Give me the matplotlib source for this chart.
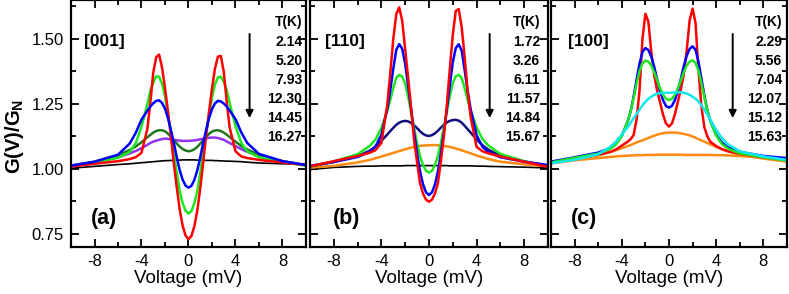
import numpy as np
import matplotlib
matplotlib.use('Agg')
import matplotlib.pyplot as plt
from matplotlib.ticker import MultipleLocator

plt.rcParams['font.family'] = ['Liberation Sans', 'DejaVu Sans']
plt.rcParams['mathtext.fontset'] = 'custom'
plt.rcParams['mathtext.bf'] = 'Liberation Sans:bold'
plt.rcParams['mathtext.rm'] = 'Liberation Sans'
plt.rcParams['axes.unicode_minus'] = False

## voltage grid (mV)
volt = [-10, -8, -6, -5, -4.5, -4, -3.5, -3.25, -3, -2.75, -2.5, -2.25, -2, -1.75, -1.5, -1.25, -1, -0.75, -0.5, -0.25,
        0, 0.25, 0.5, 0.75, 1, 1.25, 1.5, 1.75, 2, 2.25, 2.5, 2.75, 3, 3.25, 3.5, 4, 4.5, 5, 6, 8, 10]

## (a) [001]
red_a = [1.010, 1.020, 1.030, 1.038, 1.045, 1.062, 1.155, 1.255, 1.370, 1.430, 1.440, 1.390, 1.312, 1.222, 1.128, 1.022, 0.930, 0.845, 0.782, 0.744,
         0.730, 0.742, 0.780, 0.840, 0.925, 1.025, 1.130, 1.220, 1.310, 1.385, 1.432, 1.435, 1.375, 1.260, 1.160, 1.068, 1.048, 1.042, 1.035, 1.025, 1.015]
green_a = [1.012, 1.025, 1.043, 1.066, 1.098, 1.162, 1.250, 1.300, 1.332, 1.356, 1.355, 1.328, 1.278, 1.212, 1.142, 1.066, 0.986, 0.916, 0.869, 0.839,
           0.828, 0.838, 0.868, 0.915, 0.985, 1.065, 1.140, 1.210, 1.275, 1.325, 1.352, 1.355, 1.335, 1.305, 1.255, 1.165, 1.100, 1.068, 1.045, 1.027, 1.013]
blue_a = [1.013, 1.028, 1.055, 1.098, 1.138, 1.190, 1.224, 1.240, 1.253, 1.262, 1.264, 1.254, 1.232, 1.196, 1.151, 1.101, 1.046, 0.996, 0.959, 0.936,
          0.928, 0.935, 0.958, 0.995, 1.045, 1.100, 1.150, 1.195, 1.230, 1.252, 1.262, 1.260, 1.252, 1.240, 1.225, 1.192, 1.140, 1.100, 1.058, 1.030, 1.015]
dkgreen_a = [1.013, 1.028, 1.053, 1.073, 1.086, 1.103, 1.122, 1.131, 1.140, 1.146, 1.149, 1.149, 1.145, 1.136, 1.124, 1.111, 1.098, 1.086, 1.077, 1.071,
             1.068, 1.070, 1.076, 1.085, 1.097, 1.110, 1.123, 1.135, 1.144, 1.148, 1.149, 1.146, 1.140, 1.132, 1.123, 1.105, 1.088, 1.075, 1.055, 1.030, 1.015]
purple_a = [1.008, 1.025, 1.045, 1.060, 1.069, 1.080, 1.093, 1.100, 1.105, 1.109, 1.112, 1.115, 1.117, 1.116, 1.114, 1.112, 1.110, 1.109, 1.108, 1.108,
            1.108, 1.109, 1.110, 1.112, 1.114, 1.116, 1.118, 1.120, 1.121, 1.121, 1.119, 1.116, 1.112, 1.106, 1.100, 1.088, 1.076, 1.066, 1.050, 1.030, 1.014]
black_a = [1.003, 1.010, 1.017, 1.020, 1.022, 1.024, 1.026, 1.027, 1.028, 1.029, 1.030, 1.031, 1.032, 1.032, 1.033, 1.033, 1.034, 1.034, 1.035, 1.035,
           1.035, 1.035, 1.035, 1.034, 1.034, 1.034, 1.033, 1.033, 1.033, 1.032, 1.032, 1.031, 1.031, 1.030, 1.030, 1.029, 1.028, 1.026, 1.023, 1.020, 1.018]

## (b) [110]
red_b = [1.010, 1.030, 1.050, 1.062, 1.072, 1.100, 1.250, 1.370, 1.500, 1.595, 1.622, 1.570, 1.460, 1.350, 1.235, 1.110, 1.025, 0.945, 0.905, 0.882,
         0.874, 0.882, 0.905, 0.945, 1.030, 1.125, 1.245, 1.385, 1.515, 1.608, 1.615, 1.545, 1.430, 1.300, 1.200, 1.085, 1.068, 1.060, 1.048, 1.028, 1.008]
blue_b = [1.012, 1.027, 1.046, 1.066, 1.086, 1.132, 1.232, 1.305, 1.385, 1.458, 1.480, 1.462, 1.405, 1.318, 1.228, 1.140, 1.061, 0.991, 0.941, 0.910,
          0.900, 0.910, 0.940, 0.990, 1.060, 1.140, 1.230, 1.320, 1.410, 1.465, 1.480, 1.455, 1.380, 1.300, 1.230, 1.130, 1.085, 1.065, 1.045, 1.028, 1.015]
green_b = [1.010, 1.029, 1.057, 1.088, 1.113, 1.158, 1.224, 1.266, 1.312, 1.351, 1.362, 1.356, 1.328, 1.278, 1.219, 1.159, 1.099, 1.049, 1.015, 0.993,
           0.986, 0.993, 1.015, 1.050, 1.100, 1.160, 1.220, 1.280, 1.330, 1.357, 1.362, 1.350, 1.310, 1.265, 1.225, 1.160, 1.115, 1.090, 1.058, 1.030, 1.012]
navy_b = [1.010, 1.027, 1.049, 1.070, 1.086, 1.108, 1.133, 1.146, 1.158, 1.170, 1.178, 1.183, 1.185, 1.183, 1.177, 1.168, 1.157, 1.145, 1.135, 1.129,
          1.127, 1.130, 1.137, 1.147, 1.159, 1.170, 1.179, 1.185, 1.188, 1.189, 1.186, 1.178, 1.166, 1.153, 1.140, 1.114, 1.091, 1.074, 1.051, 1.029, 1.012]
orange_b = [1.005, 1.012, 1.025, 1.035, 1.041, 1.048, 1.055, 1.058, 1.062, 1.065, 1.069, 1.072, 1.076, 1.079, 1.082, 1.085, 1.087, 1.089, 1.090, 1.091,
            1.091, 1.092, 1.092, 1.091, 1.090, 1.089, 1.087, 1.085, 1.082, 1.079, 1.075, 1.072, 1.068, 1.064, 1.060, 1.052, 1.045, 1.038, 1.028, 1.018, 1.010]
black_b = [0.998, 1.006, 1.010, 1.011, 1.011, 1.012, 1.012, 1.012, 1.012, 1.012, 1.012, 1.012, 1.013, 1.013, 1.013, 1.013, 1.013, 1.013, 1.013, 1.013,
           1.013, 1.013, 1.013, 1.013, 1.013, 1.013, 1.013, 1.012, 1.012, 1.012, 1.012, 1.012, 1.012, 1.012, 1.012, 1.011, 1.011, 1.010, 1.009, 1.007, 1.004]

## (c) [100]
red_c = [1.028, 1.040, 1.055, 1.065, 1.075, 1.090, 1.105, 1.115, 1.130, 1.190, 1.300, 1.500, 1.597, 1.567, 1.450, 1.360, 1.300, 1.255, 1.208, 1.175,
         1.163, 1.175, 1.210, 1.258, 1.305, 1.365, 1.455, 1.572, 1.617, 1.562, 1.380, 1.240, 1.160, 1.125, 1.105, 1.088, 1.076, 1.068, 1.058, 1.045, 1.035]
blue_c = [1.028, 1.045, 1.063, 1.080, 1.098, 1.128, 1.183, 1.222, 1.278, 1.342, 1.405, 1.450, 1.465, 1.458, 1.432, 1.392, 1.343, 1.298, 1.264, 1.242,
          1.236, 1.243, 1.265, 1.300, 1.345, 1.395, 1.435, 1.462, 1.472, 1.458, 1.412, 1.347, 1.282, 1.226, 1.186, 1.131, 1.101, 1.083, 1.066, 1.050, 1.042]
green_c = [1.025, 1.043, 1.059, 1.077, 1.094, 1.126, 1.183, 1.222, 1.272, 1.327, 1.376, 1.406, 1.417, 1.413, 1.398, 1.372, 1.340, 1.310, 1.285, 1.270,
           1.265, 1.270, 1.285, 1.310, 1.340, 1.372, 1.398, 1.413, 1.418, 1.408, 1.378, 1.330, 1.275, 1.225, 1.185, 1.128, 1.095, 1.078, 1.060, 1.045, 1.032]
cyan_c = [1.022, 1.035, 1.056, 1.085, 1.105, 1.133, 1.160, 1.178, 1.195, 1.212, 1.228, 1.245, 1.258, 1.270, 1.278, 1.285, 1.290, 1.292, 1.293, 1.293,
          1.293, 1.294, 1.294, 1.295, 1.295, 1.293, 1.290, 1.285, 1.278, 1.270, 1.260, 1.245, 1.228, 1.210, 1.190, 1.150, 1.118, 1.095, 1.068, 1.048, 1.035]
orange1_c = [1.022, 1.035, 1.052, 1.065, 1.072, 1.080, 1.088, 1.092, 1.097, 1.102, 1.106, 1.110, 1.115, 1.119, 1.124, 1.128, 1.132, 1.135, 1.138, 1.139,
             1.140, 1.140, 1.140, 1.139, 1.137, 1.135, 1.132, 1.129, 1.125, 1.120, 1.115, 1.110, 1.105, 1.100, 1.095, 1.085, 1.076, 1.068, 1.055, 1.040, 1.028]
orange2_c = [1.022, 1.033, 1.042, 1.046, 1.048, 1.050, 1.051, 1.052, 1.052, 1.053, 1.053, 1.053, 1.054, 1.054, 1.054, 1.054, 1.055, 1.055, 1.055, 1.055,
             1.055, 1.055, 1.055, 1.055, 1.055, 1.054, 1.054, 1.054, 1.054, 1.054, 1.054, 1.054, 1.054, 1.054, 1.054, 1.053, 1.053, 1.052, 1.050, 1.044, 1.030]

temps_a = ['2.14', '5.20', '7.93', '12.30', '14.45', '16.27']
temps_b = ['1.72', '3.26', '6.11', '11.57', '14.84', '15.67']
temps_c = ['2.29', '5.56', '7.04', '12.07', '15.12', '15.63']

RED = '#ff0000'
GREEN = '#1ee61e'
BLUE = '#0000ff'
DKGREEN = '#1e781e'
PURPLE = '#9430f0'
NAVY = '#101080'
ORANGE = '#ff8a10'
CYAN = '#10e8f0'

fig = plt.figure(figsize=(7.89, 2.94), dpi=100)
ax_a = fig.add_axes([0.0900, 0.160, 0.2978, 0.840])
ax_b = fig.add_axes([0.3929, 0.160, 0.3016, 0.840])
ax_c = fig.add_axes([0.6984, 0.160, 0.2990, 0.840])

lw = 1.8
# (a)
ax_a.plot(volt, black_a, color='k', lw=1.2)
ax_a.plot(volt, purple_a, color=PURPLE, lw=lw)
ax_a.plot(volt, dkgreen_a, color=DKGREEN, lw=lw)
ax_a.plot(volt, green_a, color=GREEN, lw=lw)
ax_a.plot(volt, red_a, color=RED, lw=lw)
ax_a.plot(volt, blue_a, color=BLUE, lw=lw)
# (b)
ax_b.plot(volt, black_b, color='k', lw=1.2)
ax_b.plot(volt, orange_b, color=ORANGE, lw=lw)
ax_b.plot(volt, navy_b, color=NAVY, lw=lw)
ax_b.plot(volt, green_b, color=GREEN, lw=lw)
ax_b.plot(volt, blue_b, color=BLUE, lw=lw)
ax_b.plot(volt, red_b, color=RED, lw=lw)
# (c)
ax_c.plot(volt, orange2_c, color=ORANGE, lw=lw)
ax_c.plot(volt, orange1_c, color=ORANGE, lw=lw)
ax_c.plot(volt, red_c, color=RED, lw=lw)
ax_c.plot(volt, blue_c, color=BLUE, lw=lw)
ax_c.plot(volt, green_c, color=GREEN, lw=lw)
ax_c.plot(volt, cyan_c, color=CYAN, lw=lw)

panels = [(ax_a, '[001]', '(a)', temps_a, 9.7, -8.9, -8.35, 5.2),
          (ax_b, '[110]', '(b)', temps_b, 9.35, -8.75, -8.1, 5.1),
          (ax_c, '[100]', '(c)', temps_c, 9.6, -8.6, -8.35, 5.4)]

for ax, direc, tag, temps, tx, dx, lx, ax_x in panels:
    ax.set_xlim(-10, 10)
    ax.set_ylim(0.70, 1.65)
    ax.xaxis.set_major_locator(MultipleLocator(4))
    ax.xaxis.set_minor_locator(MultipleLocator(2))
    ax.yaxis.set_major_locator(MultipleLocator(0.25))
    ax.yaxis.set_minor_locator(MultipleLocator(0.125))
    ax.tick_params(which='both', direction='in', top=True, right=True, width=1.3, labelsize=12)
    ax.tick_params(which='major', length=6, pad=5)
    ax.tick_params(which='minor', length=3.5)
    for s in ax.spines.values():
        s.set_linewidth(1.6)
    ax.set_xlabel('Voltage (mV)', fontsize=13.5, labelpad=1)
    if ax is not ax_a:
        ax.tick_params(labelleft=False)
    ax.text(dx, 1.49, direc, fontsize=12.5, fontweight='bold', ha='left', va='center')
    ax.text(lx, 0.808, tag, fontsize=15.5, fontweight='bold', ha='left', va='center')
    ax.text(tx, 1.565, 'T(K)', fontsize=10, fontweight='bold', ha='right', va='center')
    for i, t in enumerate(temps):
        ax.text(tx, 1.489 - i * 0.0735, t, fontsize=10, fontweight='bold', ha='right', va='center')
    ax.annotate('', xy=(ax_x, 1.185), xytext=(ax_x, 1.53),
                arrowprops=dict(arrowstyle='-|>', color='k', lw=1.4, mutation_scale=11))

ax_a.yaxis.set_major_formatter(plt.FormatStrFormatter('%.2f'))
fig.text(0.018, 0.537, r'G(V)/G$_\mathbf{N}$', rotation=90, fontsize=14.5, fontweight='bold',
         ha='center', va='center')

fig.savefig('out.png', dpi=100)
